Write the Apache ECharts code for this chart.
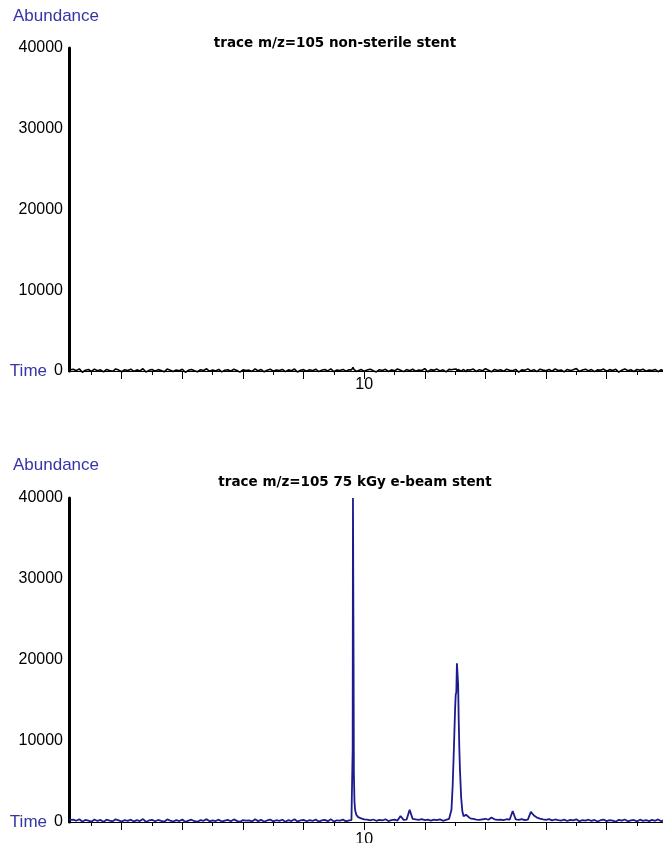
<!DOCTYPE html>
<html>
<head>
<meta charset="utf-8">
<script src="https://cdn.jsdelivr.net/npm/echarts@6/dist/echarts.min.js"></script>
<style>html,body{margin:0;padding:0;background:#fff}#c{width:663px;height:843px}</style>
</head>
<body>
<div id="c"></div>
<script>
// sampling times (min)
const times = [
  5.13,5.15,5.20,5.25,5.30,5.35,5.40,5.45,5.50,5.55,
  5.60,5.65,5.70,5.75,5.80,5.85,5.90,5.95,6.00,6.05,
  6.10,6.15,6.20,6.25,6.30,6.35,6.40,6.45,6.50,6.55,
  6.60,6.65,6.70,6.75,6.80,6.85,6.90,6.95,7.00,7.05,
  7.10,7.15,7.20,7.25,7.30,7.35,7.40,7.45,7.50,7.55,
  7.60,7.65,7.70,7.75,7.80,7.85,7.90,7.95,8.00,8.05,
  8.10,8.15,8.20,8.25,8.30,8.35,8.40,8.45,8.50,8.55,
  8.60,8.65,8.70,8.75,8.80,8.85,8.90,8.95,9.00,9.05,
  9.10,9.15,9.20,9.25,9.30,9.35,9.40,9.45,9.50,9.55,
  9.60,9.65,9.70,9.75,
  9.77,9.79,9.80,9.81,9.815,9.82,9.825,9.83,9.84,9.85,9.87,9.90,
  9.95,10.00,10.05,10.10,10.15,10.20,10.25,10.30,10.35,10.40,
  10.45,10.50,10.55,10.60,10.65,10.70,10.75,10.80,10.85,10.90,
  10.95,11.00,11.05,11.10,11.15,11.20,11.25,11.30,11.35,11.40,
  11.42,11.44,11.46,11.48,11.50,11.51,11.52,11.53,11.54,11.55,11.56,11.57,11.58,11.60,11.62,11.64,11.66,11.68,11.70,
  11.75,11.80,11.85,11.90,11.95,12.00,12.05,12.10,12.15,12.20,
  12.25,12.30,12.35,12.40,12.45,12.50,12.55,12.60,12.65,12.70,
  12.75,12.80,12.85,12.90,12.95,13.00,13.05,13.10,13.15,13.20,
  13.25,13.30,13.35,13.40,13.45,13.50,13.55,13.60,13.65,13.70,
  13.75,13.80,13.85,13.90,13.95,14.00,14.05,14.10,14.15,14.20,
  14.25,14.30,14.35,14.40,14.45,14.50,14.55,14.60,14.65,14.70,
  14.75,14.80,14.85,14.90,14.93
];
// abundance, trace m/z=105 non-sterile stent
const nonSterile = [
  120,-80,210,40,260,-150,90,180,-60,230,
  30,150,-120,200,70,-40,250,110,-90,160,
  60,220,-50,140,10,280,-130,80,190,-20,
  170,50,-100,240,100,-70,130,30,210,-160,
  80,190,20,-90,150,60,270,-40,120,0,
  200,-110,90,160,-30,230,70,-140,140,50,
  110,-60,250,20,180,-100,90,210,-20,130,
  60,190,-80,140,30,240,-120,100,170,-40,
  150,40,220,-70,90,180,10,260,-90,120,
  70,200,-30,150,
  80,140,60,250,450,620,380,200,90,170,-50,120,
  190,-40,110,230,30,-110,160,70,210,-60,
  140,20,250,90,-80,180,40,220,-30,130,
  60,300,-90,170,80,240,10,150,-120,200,
  90,160,-40,220,120,30,250,80,-70,180,140,40,210,-20,130,190,50,-90,160,
  110,240,-60,170,20,280,90,-100,190,60,
  150,-40,230,100,30,200,-130,140,80,260,
  10,170,-70,220,110,40,190,-20,250,70,
  130,-110,200,60,160,300,-50,120,230,20,
  180,-80,140,90,240,-30,170,50,210,-140,
  100,260,30,150,-60,190,80,220,-20,130,
  70,200,-90,160,40
];
// abundance, trace m/z=105 75 kGy e-beam stent
const eBeam = [
  220,90,300,150,340,60,250,180,40,310,
  130,260,20,280,170,80,330,200,50,240,
  150,290,70,230,110,360,30,190,270,90,
  250,140,40,320,180,60,230,120,300,10,
  170,280,100,30,240,150,350,80,210,120,
  290,50,180,260,90,320,140,20,230,160,
  200,70,340,110,270,40,190,300,80,220,
  150,280,30,240,120,330,60,200,260,90,
  230,130,310,50,190,270,100,350,40,210,
  160,290,80,200,
  180,240,400,9000,40000,40000,20000,6000,2500,1500,900,600,
  450,330,280,200,310,150,260,190,340,120,
  230,300,180,750,260,300,1500,380,320,270,
  350,240,300,180,280,220,330,150,260,380,
  400,1500,4500,9000,14000,15700,16000,19600,19600,17000,12500,9000,6500,3000,1300,700,500,900,1100,
  450,380,300,250,330,400,280,550,330,260,
  300,220,340,280,1350,320,260,350,220,300,
  1250,800,550,420,330,260,350,200,310,240,
  180,290,120,260,200,330,90,240,170,280,
  140,250,60,220,300,110,230,180,40,270,
  160,310,90,200,250,70,290,140,220,100,
  260,150,320,80,200
];
const majorTicks = [6,7,8,9,10,11,12,13,14];
const minorTicks = [5.5,6.5,7.5,8.5,9.5,10.5,11.5,12.5,13.5,14.5];
const xLabels = [10];
const titles = ['trace m/z=105 non-sterile stent', 'trace m/z=105 75 kGy e-beam stent'];

const zip = v => times.map((t, i) => [t, v[i]]);
const FONT = 'Liberation Sans';
const BLUE = '#3535a8';

function xAxes(g, margin) {
  return [{
    gridIndex: g, type: 'value', min: 5.13, max: 14.93,
    axisLine: { show: true, onZero: false, lineStyle: { color: '#000', width: 1 } },
    axisTick: { show: true, customValues: majorTicks, length: 8, lineStyle: { color: '#000', width: 1 } },
    axisLabel: { show: true, customValues: xLabels, formatter: v => String(v), color: '#000', fontSize: 16, fontFamily: FONT, margin: margin },
    splitLine: { show: false }
  }, {
    gridIndex: g, type: 'value', min: 5.13, max: 14.93, position: 'bottom',
    axisLine: { show: false },
    axisTick: { show: true, customValues: minorTicks, length: 4, lineStyle: { color: '#000', width: 1 } },
    axisLabel: { show: false },
    splitLine: { show: false }
  }];
}
function yAxis(g) {
  return {
    gridIndex: g, type: 'value', min: 0, max: 40000, interval: 10000,
    axisLine: { show: true, lineStyle: { color: '#000', width: 3 } },
    axisTick: { show: false },
    axisLabel: { color: '#000', fontSize: 16, fontFamily: FONT, margin: 6, formatter: v => String(v) },
    splitLine: { show: false }
  };
}

const chart = echarts.init(document.getElementById('c'), null, { renderer: 'canvas' });
chart.setOption({
  animation: false,
  backgroundColor: '#fff',
  grid: [
    { left: 69, right: 0, top: 48, height: 323, containLabel: false, outerBoundsMode: 'none' },
    { left: 69, right: 0, top: 498, height: 324, containLabel: false, outerBoundsMode: 'none' }
  ],
  xAxis: [...xAxes(0, 6), ...xAxes(1, 10)],
  yAxis: [yAxis(0), yAxis(1)],
  series: [
    { type: 'line', xAxisIndex: 0, yAxisIndex: 0, data: zip(nonSterile), showSymbol: false, clip: false,
      lineStyle: { color: '#000', width: 1.6 }, z: 5 },
    { type: 'line', xAxisIndex: 2, yAxisIndex: 1, data: zip(eBeam), showSymbol: false, clip: false,
      lineStyle: { color: '#1c1c8c', width: 1.8 }, z: 5 }
  ],
  graphic: [
    { type: 'text', left: 13, top: 8, style: { text: 'Abundance', fill: BLUE, font: '17px "Liberation Sans"' } },
    { type: 'text', left: 13, top: 457, style: { text: 'Abundance', fill: BLUE, font: '17px "Liberation Sans"' } },
    { type: 'text', x: 47, y: 371, style: { text: 'Time', fill: BLUE, font: '17px "Liberation Sans"', textAlign: 'right', textVerticalAlign: 'middle' } },
    { type: 'text', x: 47, y: 822, style: { text: 'Time', fill: BLUE, font: '17px "Liberation Sans"', textAlign: 'right', textVerticalAlign: 'middle' } },
    { type: 'text', x: 335, y: 43, style: { text: titles[0], fill: '#000', font: 'bold 13.5px "DejaVu Sans"', textAlign: 'center', textVerticalAlign: 'middle' } },
    { type: 'text', x: 355, y: 482, style: { text: titles[1], fill: '#000', font: 'bold 13.5px "DejaVu Sans"', textAlign: 'center', textVerticalAlign: 'middle' } }
  ]
});
</script>
</body>
</html>
